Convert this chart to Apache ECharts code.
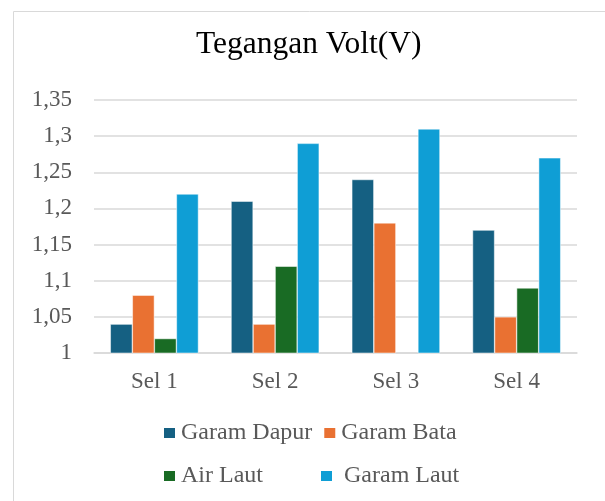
<!DOCTYPE html>
<html>
<head>
    <meta charset="utf-8"/>
    <title>Tegangan Volt(V)</title>
    <script src="https://cdn.jsdelivr.net/npm/echarts@6/dist/echarts.min.js"></script>
    <style>
        html, body { margin: 0; padding: 0; background: #fff; }
        #chart { width: 605px; height: 501px; }
    </style>
</head>
<body>
<div id="chart"></div>
<script type="text/javascript">
    // data
    var categories = ['Sel 1', 'Sel 2', 'Sel 3', 'Sel 4'];
    var garamDapur = [1.04, 1.21, 1.24, 1.17];
    var garamBata  = [1.08, 1.04, 1.18, 1.05];
    var airLaut    = [1.02, 1.12, null, 1.09];
    var garamLaut  = [1.22, 1.29, 1.31, 1.27];

    var font = "'Liberation Serif', 'Times New Roman', serif";
    var grey = '#595959';

    var myChart = echarts.init(document.getElementById('chart'));

    // legend text goes through rich text so the serif font and a fixed column width stick
    function legendText() {
        return {
            fontFamily: font,
            fontSize: 24,
            color: grey,
            rich: {
                n: {
                    fontFamily: font,
                    fontSize: 24,
                    color: grey,
                    width: 128,
                    lineHeight: 26
                }
            }
        };
    }

    myChart.setOption({
        animation: false,
        textStyle: { fontFamily: font },
        title: {
            text: 'Tegangan Volt(V)',
            left: 196,
            top: 29,
            padding: 0,
            textStyle: {
                fontFamily: font,
                fontSize: 31.5,
                fontWeight: 'normal',
                color: '#000'
            }
        },
        graphic: [{
            type: 'rect',
            shape: { x: 13.5, y: 11.5, width: 700, height: 600 },
            style: { fill: 'none', stroke: '#d9d9d9', lineWidth: 1 },
            silent: true
        }],
        legend: [{
            data: ['Garam Dapur', 'Garam Bata'],
            left: 162,
            top: 421,
            padding: 0,
            itemWidth: 13,
            itemHeight: 12,
            itemGap: 10,
            icon: 'rect',
            formatter: function (name) {
                return '{n|' + name + '}';
            },
            textStyle: legendText()
        }, {
            data: ['Air Laut', 'Garam Laut'],
            left: 162,
            top: 464,
            padding: 0,
            itemWidth: 13,
            itemHeight: 12,
            itemGap: 10,
            icon: 'rect',
            formatter: function (name) {
                return '{n|' + (name === 'Garam Laut' ? ' ' + name : name) + '}';
            },
            textStyle: legendText()
        }],
        grid: {
            left: 94,
            right: 28,
            top: 100,
            bottom: 148
        },
        xAxis: {
            type: 'category',
            data: categories,
            axisLine: { lineStyle: { color: '#d9d9d9', width: 1.5 } },
            axisTick: { show: false },
            axisLabel: {
                fontFamily: font,
                fontSize: 23,
                color: grey,
                margin: 17
            }
        },
        yAxis: {
            type: 'value',
            min: 1,
            max: 1.35,
            interval: 0.05,
            axisLine: { show: false },
            axisTick: { show: false },
            splitLine: { lineStyle: { color: '#d9d9d9', width: 1.5 } },
            axisLabel: {
                fontFamily: font,
                fontSize: 23,
                color: grey,
                margin: 22,
                formatter: function (v) {
                    return String(+v.toFixed(2)).replace('.', ',');
                }
            }
        },
        series: [
            {
                name: 'Garam Dapur', type: 'bar', data: garamDapur,
                barGap: '0%', barCategoryGap: '27%',
                itemStyle: { color: '#156082', borderColor: '#ffffff', borderWidth: 0.5 }
            },
            {
                name: 'Garam Bata', type: 'bar', data: garamBata,
                itemStyle: { color: '#E97132', borderColor: '#ffffff', borderWidth: 0.5 }
            },
            {
                name: 'Air Laut', type: 'bar', data: airLaut,
                itemStyle: { color: '#196B24', borderColor: '#ffffff', borderWidth: 0.5 }
            },
            {
                name: 'Garam Laut', type: 'bar', data: garamLaut,
                itemStyle: { color: '#0F9ED5', borderColor: '#ffffff', borderWidth: 0.5 }
            }
        ]
    });
</script>
</body>
</html>
